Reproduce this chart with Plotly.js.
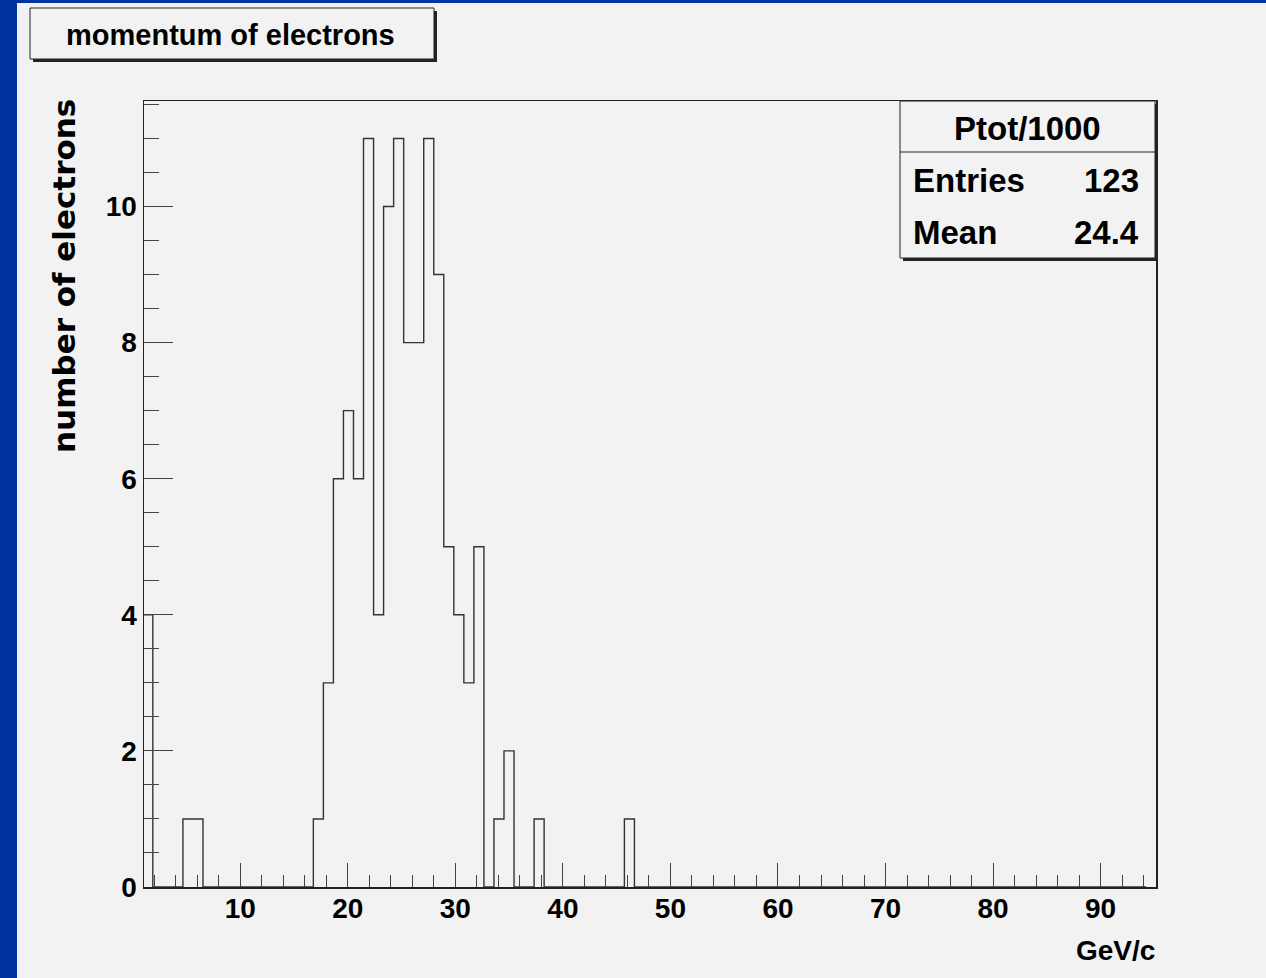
<!DOCTYPE html>
<html><head><meta charset="utf-8">
<script src="https://cdn.plot.ly/plotly-3.0.1.min.js"></script>
<style>
html,body{margin:0;padding:0;background:#0033a0;width:1266px;height:978px;overflow:hidden;}
#chart{position:absolute;left:17px;top:3px;width:1249px;height:975px;}
</style></head><body><div id="chart"></div>
<script>
// ---- data ----
const binWidth = 0.933;          // GeV/c per bin
const nBins = 101;
const filledBins   = [1, 5, 6, 18, 19, 20, 21, 22, 23, 24, 25, 26, 27, 28, 29, 30, 31, 32, 33, 34, 36, 37, 40, 49];
const filledCounts = [4, 1, 1, 1, 3, 6, 7, 6, 11, 4, 10, 11, 8, 8, 11, 9, 5, 4, 3, 5, 1, 2, 1, 1];
const histName = 'Ptot/1000';
const titleText = 'momentum of electrons';
const xTitle = 'GeV/c';
const yTitle = 'number of electrons';
const xRange = [1.046, 95.15];
const yRange = [0, 11.55];

// ---- build histogram outline ----
const counts = new Array(nBins).fill(0);
filledBins.forEach((b, i) => { counts[b] = filledCounts[i]; });
const xs = [0], ys = [0];
for (let i = 0; i < nBins; i++) { xs.push(i * binWidth); ys.push(counts[i]); }
xs.push(nBins * binWidth); ys.push(0);

const entries = counts.reduce((a, b) => a + b, 0);
let sw = 0; counts.forEach((c, i) => { sw += c * (i + 0.5) * binWidth; });
const mean = (sw / entries).toFixed(1);

// ---- geometry helpers (page pixels -> paper) ----
const L = 144, R = 1156, T = 101, B = 887;
const px = x => (x - L) / (R - L);
const py = y => (B - y) / (B - T);

const sans = "'Liberation Sans', Arial, Helvetica, sans-serif";
const lineCol = '#222';

function rect(x0, y0, x1, y1, fill, lw) {
  return {type: 'rect', xref: 'paper', yref: 'paper', x0: px(x0), x1: px(x1), y0: py(y1), y1: py(y0),
    fillcolor: fill, line: {color: lineCol, width: lw}, layer: 'above'};
}
function line(x0, y0, x1, y1) {
  return {type: 'line', xref: 'paper', yref: 'paper', x0: px(x0), x1: px(x1), y0: py(y0), y1: py(y1),
    line: {color: lineCol, width: 1.2}, layer: 'above'};
}
function ann(text, x, y, xa, size, fam) {
  return {text: text, xref: 'paper', yref: 'paper', x: px(x), y: py(y), xanchor: xa, yanchor: 'middle',
    showarrow: false, font: {family: fam || sans, size: size, color: '#000', weight: 'bold'}};
}

const trace = {
  type: 'scatter', mode: 'lines', x: xs, y: ys,
  line: {shape: 'hv', color: '#333', width: 1.4},
  hoverinfo: 'skip', showlegend: false
};

const layout = {
  width: 1249, height: 975,
  margin: {l: L - 17, r: 1266 - R, t: T - 3, b: 978 - B, pad: 0},
  paper_bgcolor: '#f2f2f2', plot_bgcolor: '#f2f2f2',
  showlegend: false,
  xaxis: {
    range: xRange, showgrid: false, zeroline: false,
    showline: true, linecolor: lineCol, linewidth: 1.5, mirror: true,
    ticks: 'inside', ticklen: 24, tickwidth: 1, tickcolor: '#444',
    tick0: 0, dtick: 10,
    minor: {dtick: 2, ticklen: 12, tickwidth: 1, tickcolor: '#444', ticks: 'inside'},
    tickfont: {family: sans, size: 28, color: '#000', weight: 'bold'},
    ticklabelstandoff: -4
  },
  yaxis: {
    range: yRange, showgrid: false, zeroline: false,
    showline: true, linecolor: lineCol, linewidth: 1.5, mirror: true,
    ticks: 'inside', ticklen: 29, tickwidth: 1, tickcolor: '#444',
    tick0: 0, dtick: 2,
    minor: {dtick: 0.5, ticklen: 15, tickwidth: 1, tickcolor: '#444', ticks: 'inside'},
    tickfont: {family: sans, size: 28, color: '#000', weight: 'bold'},
    ticklabelstandoff: 0
  },
  shapes: [
    // title box with shadow
    rect(33, 11, 437, 62, '#222', 0),
    rect(30, 8, 434, 59, '#f2f2f2', 1),
    // stats box with shadow
    rect(903, 104, 1158, 261, '#222', 0),
    rect(900, 101, 1155, 258, '#f2f2f2', 1),
    line(900, 152, 1155, 152)
  ],
  annotations: [
    ann(titleText, 230, 35, 'center', 29),
    ann(histName, 1027, 128, 'center', 33),
    ann('Entries', 911, 180, 'left', 33),
    ann(String(entries), 1141, 180, 'right', 33),
    ann('Mean', 911, 233, 'left', 33),
    ann(mean, 1141, 233, 'right', 33),
    ann(xTitle, 1157, 950, 'right', 28),
    Object.assign(ann(yTitle, 64, 276, 'center', 31, "'DejaVu Sans', sans-serif"), {textangle: -90})
  ]
};

Plotly.newPlot('chart', [trace], layout, {displayModeBar: false, staticPlot: true});
</script></body></html>
